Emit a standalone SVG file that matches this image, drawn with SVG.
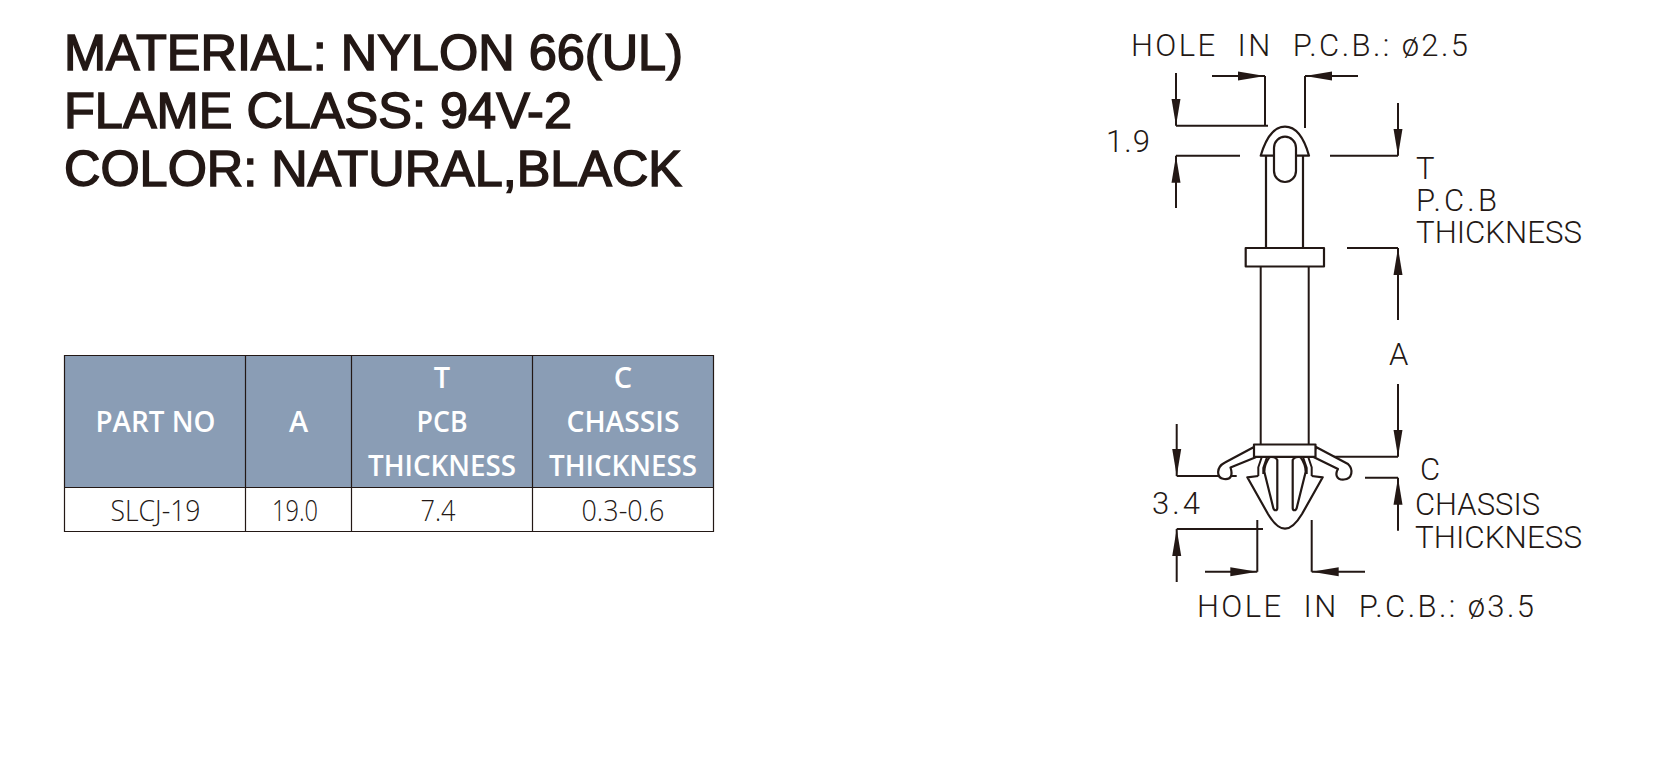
<svg xmlns="http://www.w3.org/2000/svg" width="1672" height="773" viewBox="0 0 1672 773">
<defs>
<marker id="ah" markerUnits="userSpaceOnUse" markerWidth="28" markerHeight="10" refX="27" refY="5" orient="auto-start-reverse"><path d="M0 0.5L27 5L0 9.5Z" fill="#231815"/></marker>
</defs>
<style>
.title{font-family:"Liberation Sans",Arial,sans-serif;font-weight:400;font-size:50px;fill:#231815;stroke:#231815;stroke-width:1.5px}
.th{font-family:"Open Sans","Noto Sans",sans-serif;font-weight:600;font-size:29px;fill:#fff;text-anchor:middle}
.td{font-family:"Open Sans","Noto Sans",sans-serif;font-weight:300;font-size:29px;fill:#231815;text-anchor:middle}
.cell{fill:none;stroke:#231815;stroke-width:1.2}
.dim{font-family:Roboto,"Open Sans",sans-serif;font-weight:300;font-size:31px;fill:#231815}
.ln{fill:none;stroke:#231815;stroke-width:2}
.part{fill:#fff;stroke:#231815;stroke-width:2.2;stroke-linejoin:round}
</style>
<rect width="1672" height="773" fill="#fff"/>
<g id="title">
<text class="title" x="64" y="69.500" textLength="619" lengthAdjust="spacingAndGlyphs">MATERIAL: NYLON 66(UL)</text>
<text class="title" x="64" y="127.500" textLength="508" lengthAdjust="spacingAndGlyphs">FLAME CLASS: 94V-2</text>
<text class="title" x="64" y="186" textLength="618" lengthAdjust="spacingAndGlyphs">COLOR: NATURAL,BLACK</text>
</g>
<g id="spec-table">
<rect x="64.5" y="355.500" width="649" height="132" fill="#8a9db5"/>
<path class="cell" d="M64.5 355.500H713.500V531.500H64.500ZM64.5 487.500H713.500M245.500 355.500V531.500M351.500 355.500V531.500M532.500 355.500V531.500"/>
<text class="th" x="155.500" y="431.700" textLength="120" lengthAdjust="spacingAndGlyphs">PART NO</text>
<text class="th" x="298.500" y="431.700">A</text>
<text class="th" x="442" y="387.700">T</text>
<text class="th" x="442" y="431.700" textLength="51" lengthAdjust="spacingAndGlyphs">PCB</text>
<text class="th" x="442" y="475.700" textLength="148" lengthAdjust="spacingAndGlyphs">THICKNESS</text>
<text class="th" x="623" y="387.700">C</text>
<text class="th" x="623" y="431.700" textLength="113" lengthAdjust="spacingAndGlyphs">CHASSIS</text>
<text class="th" x="623" y="475.700" textLength="148" lengthAdjust="spacingAndGlyphs">THICKNESS</text>
<text class="td" x="155.500" y="520.700" textLength="90" lengthAdjust="spacingAndGlyphs">SLCJ-19</text>
<text class="td" x="295" y="520.700" textLength="46" lengthAdjust="spacingAndGlyphs">19.0</text>
<text class="td" x="438" y="520.700" textLength="35" lengthAdjust="spacingAndGlyphs">7.4</text>
<text class="td" x="623" y="520.700" textLength="83" lengthAdjust="spacingAndGlyphs">0.3-0.6</text>
</g>
<g id="connectors">
<path class="ln" marker-end="url(#ah)" d="M1176 73V125.700"/>
<path class="ln" d="M1176 125.700H1268M1265 76V126"/>
<path class="ln" marker-end="url(#ah)" d="M1212 76H1265"/>
<path class="ln" d="M1305 76V128"/>
<path class="ln" marker-end="url(#ah)" d="M1358 76H1305"/>
<path class="ln" marker-end="url(#ah)" d="M1398 103V155.700"/>
<path class="ln" d="M1330 155.700H1398M1176 155.700H1240"/>
<path class="ln" marker-end="url(#ah)" d="M1176 208V155.700"/>
<path class="ln" d="M1347 248H1398"/>
<path class="ln" marker-end="url(#ah)" d="M1398 320V248"/>
<path class="ln" marker-end="url(#ah)" d="M1398 384V456.700"/>
<path class="ln" d="M1333 456.700H1398"/>
<path class="ln" marker-end="url(#ah)" d="M1176.700 424V476"/>
<path class="ln" d="M1176.700 476H1236.700"/>
<path class="ln" d="M1176.700 529H1263"/>
<path class="ln" marker-end="url(#ah)" d="M1176.700 582V529"/>
<path class="ln" d="M1257.300 520V571.700M1311.700 520V571.700"/>
<path class="ln" marker-end="url(#ah)" d="M1205 571.700H1257.300"/>
<path class="ln" marker-end="url(#ah)" d="M1365 571.700H1311.700"/>
<path class="ln" d="M1365 477.700H1398"/>
<path class="ln" marker-end="url(#ah)" d="M1398 530.700V477.700"/>
</g>
<g id="clip-part">
<path class="part" d="M1266 156V248M1303 156V248"/>
<path class="part" d="M1260.700 155.700C1266 138 1274 126.700 1285 126.700C1296 126.700 1304 138 1309 155.700Z"/>
<rect class="part" x="1274" y="136.700" width="22" height="45.300" rx="11"/>
<rect class="part" x="1245.700" y="248" width="78.300" height="18.500"/>
<path class="ln" d="M1260.700 266.500V444M1308.700 266.500V444"/>
<path class="part" d="M1254 447L1225 462.500C1216 467 1216 478 1224 479C1231 480 1233 475 1230.500 467.500L1255.700 457.300Z"/>
<path class="part" d="M1316 447L1348 464C1354 470 1352 479 1344 479.500C1336 480 1335 474 1338 469L1313 456.700Z"/>
<path class="part" d="M1258.300 476L1247.300 477.300L1268 514C1274 524 1279 528.700 1285 528.700C1291 528.700 1296 524 1302 514L1322.700 477.300L1311.700 476"/>
<path class="ln" d="M1261.700 457.300L1258.300 467.300V476M1266.700 458L1263.300 468V474M1308.300 457.300L1311.700 467.300V476M1303.300 458L1306.700 468V474"/>
<path class="part" d="M1269.300 457.300C1266 462 1264.300 467 1264.300 471.700L1273.300 508C1274 511 1277.300 511 1277.300 508V460C1276 457 1272 456.500 1269.300 457.300Z"/>
<path class="part" d="M1300.700 457.300C1304 462 1305.700 467 1305.700 471.700L1296.700 508C1296 511 1292.700 511 1292.700 508V460C1294 457 1298 456.500 1300.700 457.300Z"/>
<rect class="part" x="1254" y="444.500" width="61.500" height="12.300"/>
</g>
<g id="labels">
<text class="dim" x="1131" y="55.700" textLength="337" lengthAdjust="spacing" xml:space="preserve">HOLE  IN  P.C.B.: ø2.5</text>
<text class="dim" x="1106" y="151.700" textLength="44" lengthAdjust="spacing">1.9</text>
<text class="dim" x="1416" y="179">T</text>
<text class="dim" x="1416" y="211" textLength="81" lengthAdjust="spacing">P.C.B</text>
<text class="dim" x="1416" y="243" textLength="166" lengthAdjust="spacingAndGlyphs">THICKNESS</text>
<text class="dim" x="1389" y="365">A</text>
<text class="dim" x="1152" y="514" textLength="48" lengthAdjust="spacing">3.4</text>
<text class="dim" x="1420" y="480">C</text>
<text class="dim" x="1415" y="515" textLength="125" lengthAdjust="spacingAndGlyphs">CHASSIS</text>
<text class="dim" x="1415" y="548" textLength="167" lengthAdjust="spacingAndGlyphs">THICKNESS</text>
<text class="dim" x="1197" y="617" textLength="337" lengthAdjust="spacing" xml:space="preserve">HOLE  IN  P.C.B.: ø3.5</text>
</g>
</svg>
